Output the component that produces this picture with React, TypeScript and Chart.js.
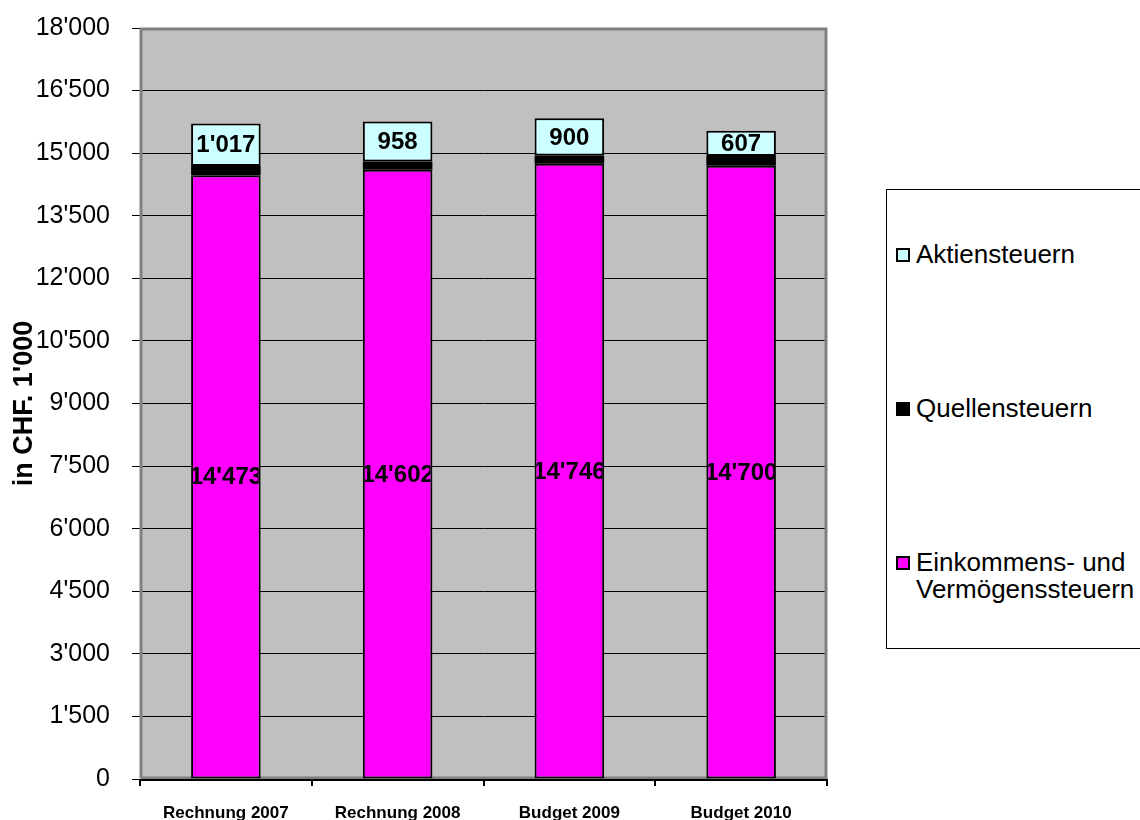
import React, { useEffect, useRef } from "react";
import { Chart, registerables } from "chart.js";

Chart.register(...registerables);

const CATEGORIES = ["Rechnung 2007", "Rechnung 2008", "Budget 2009", "Budget 2010"];
const EINKOMMENS = [14473, 14602, 14746, 14700];
const QUELLEN = [220, 200, 190, 230];
const AKTIEN = [1017, 958, 900, 607];
const SERIES_NAMES = ["Einkommens- und Vermögenssteuern", "Quellensteuern", "Aktiensteuern"];
const SERIES_COLORS = ["#FF00FF", "#000000", "#CCFFFF"];
const Y_MIN = 0;
const Y_MAX = 18000;
const Y_STEP = 1500;
const Y_TITLE = "in CHF. 1'000";

const FONT = "'Liberation Sans', Arial, sans-serif";

function fmt(v: number): string {
  return String(Math.round(v)).replace(/\B(?=(\d{3})+(?!\d))/g, "'");
}

const plotFrame = {
  id: "plotFrame",
  beforeDraw(chart: any) {
    const { ctx, chartArea: a } = chart;
    ctx.save();
    ctx.fillStyle = "#C0C0C0";
    ctx.fillRect(a.left, a.top, a.right - a.left, a.bottom - a.top);
    ctx.restore();
  },
  beforeDatasetsDraw(chart: any) {
    const { ctx, chartArea: a } = chart;
    ctx.save();
    ctx.strokeStyle = "#808080";
    ctx.lineWidth = 3;
    ctx.beginPath();
    ctx.moveTo(a.left + 1, a.bottom - 1);
    ctx.lineTo(a.left + 1, a.top + 1);
    ctx.lineTo(a.right - 1, a.top + 1);
    ctx.lineTo(a.right - 1, a.bottom - 1);
    ctx.lineTo(a.left + 1, a.bottom - 1);
    ctx.stroke();
    ctx.strokeStyle = "#000000";
    ctx.lineWidth = 2;
    ctx.beginPath();
    ctx.moveTo(a.left, a.bottom + 1);
    ctx.lineTo(a.right + 1, a.bottom + 1);
    ctx.stroke();
    ctx.restore();
  },
};

const barLabels = {
  id: "barLabels",
  afterDatasetsDraw(chart: any) {
    const { ctx } = chart;
    [0, 2].forEach((di) => {
      const meta = chart.getDatasetMeta(di);
      const data = chart.data.datasets[di].data as number[];
      meta.data.forEach((el: any, i: number) => {
        const { x, y, base, width } = el.getProps(["x", "y", "base", "width"], true);
        const top = Math.min(y, base);
        const bottom = Math.max(y, base);
        ctx.save();
        ctx.beginPath();
        ctx.rect(x - width / 2 + 2, top + 2, width - 4, bottom - top - 4);
        ctx.clip();
        ctx.fillStyle = "#000";
        ctx.font = `bold 24px ${FONT}`;
        ctx.textAlign = "center";
        ctx.textBaseline = "middle";
        ctx.fillText(fmt(data[i]), x, (top + bottom) / 2 + 1);
        ctx.restore();
      });
    });
  },
};

function Legend() {
  const items = [
    { name: SERIES_NAMES[2], color: SERIES_COLORS[2], cy: 254 },
    { name: SERIES_NAMES[1], color: SERIES_COLORS[1], cy: 408 },
    { name: SERIES_NAMES[0], color: SERIES_COLORS[0], cy: 562 },
  ];
  const boxTop = 189;
  return (
    <div
      style={{
        position: "absolute",
        left: 886,
        top: boxTop,
        width: 260,
        height: 460,
        borderLeft: "1px solid #000",
        borderTop: "1px solid #000",
        borderBottom: "1px solid #000",
        background: "#fff",
        boxSizing: "border-box",
      }}
    >
      {items.map((it) => (
        <div
          key={it.name}
          style={{
            position: "absolute",
            left: 9,
            top: it.cy - boxTop - 14,
            display: "flex",
            alignItems: "flex-start",
            fontFamily: FONT,
            fontSize: 26,
            lineHeight: "27px",
            color: "#000",
            whiteSpace: "nowrap",
          }}
        >
          <span
            style={{
              display: "inline-block",
              width: 14,
              height: 14,
              marginTop: 7,
              marginRight: 6,
              background: it.color,
              border: "2px solid #000",
              boxSizing: "border-box",
            }}
          />
          <span>
            {it.name === SERIES_NAMES[0] ? (
              <>
                Einkommens- und
                <br />
                Vermögenssteuern
              </>
            ) : (
              it.name
            )}
          </span>
        </div>
      ))}
    </div>
  );
}

export default function App() {
  const ref = useRef<HTMLCanvasElement | null>(null);

  useEffect(() => {
    document.body.style.margin = "0";
    const canvas = ref.current;
    if (!canvas) return;
    const chart = new Chart(canvas, {
      type: "bar",
      data: {
        labels: CATEGORIES,
        datasets: [
          { label: SERIES_NAMES[0], data: EINKOMMENS, backgroundColor: SERIES_COLORS[0], borderWidth: 2 },
          { label: SERIES_NAMES[1], data: QUELLEN, backgroundColor: SERIES_COLORS[1], borderWidth: 0 },
          { label: SERIES_NAMES[2], data: AKTIEN, backgroundColor: SERIES_COLORS[2], borderWidth: 2 },
        ].map((d) => ({
          ...d,
          borderColor: "#000",
          borderSkipped: false,
          categoryPercentage: 1,
          barPercentage: 0.405,
        })) as any,
      },
      options: {
        animation: false,
        responsive: false,
        devicePixelRatio: 1,
        layout: { padding: { left: 0, top: 28, right: 313, bottom: 0 } },
        plugins: {
          legend: { display: false },
          tooltip: { enabled: false },
        },
        scales: {
          x: {
            stacked: true,
            grid: {
              display: true,
              offset: true,
              drawOnChartArea: false,
              drawTicks: true,
              tickLength: 7,
              color: "#000",
              lineWidth: 2,
            },
            border: { display: false },
            ticks: {
              color: "#000",
              font: { family: FONT, size: 17, weight: "bold" },
              padding: 17,
              maxRotation: 0,
            },
            afterFit(scale: any) {
              scale.height = 41;
              scale.paddingLeft = 0;
              scale.paddingRight = 0;
            },
          },
          y: {
            stacked: true,
            min: Y_MIN,
            max: Y_MAX,
            ticks: {
              stepSize: Y_STEP,
              color: "#000",
              font: { family: FONT, size: 25 },
              padding: 22,
              callback: (v: any) => fmt(Number(v)),
            },
            grid: {
              color: "#000",
              lineWidth: 1,
              drawTicks: true,
              tickLength: 8,
            },
            border: { display: false },
            title: {
              display: true,
              text: Y_TITLE,
              color: "#000",
              font: { family: FONT, size: 27, weight: "bold" },
              padding: { top: 8, bottom: 0 },
            },
            afterFit(scale: any) {
              scale.width = 140;
              scale.paddingTop = 0;
              scale.paddingBottom = 0;
            },
          },
        },
      },
      plugins: [plotFrame, barLabels],
    });
    return () => chart.destroy();
  }, []);

  return (
    <div style={{ position: "relative", width: 1140, height: 820, overflow: "hidden", background: "#fff" }}>
      <canvas ref={ref} width={1140} height={820} style={{ display: "block" }} />
      <Legend />
    </div>
  );
}
